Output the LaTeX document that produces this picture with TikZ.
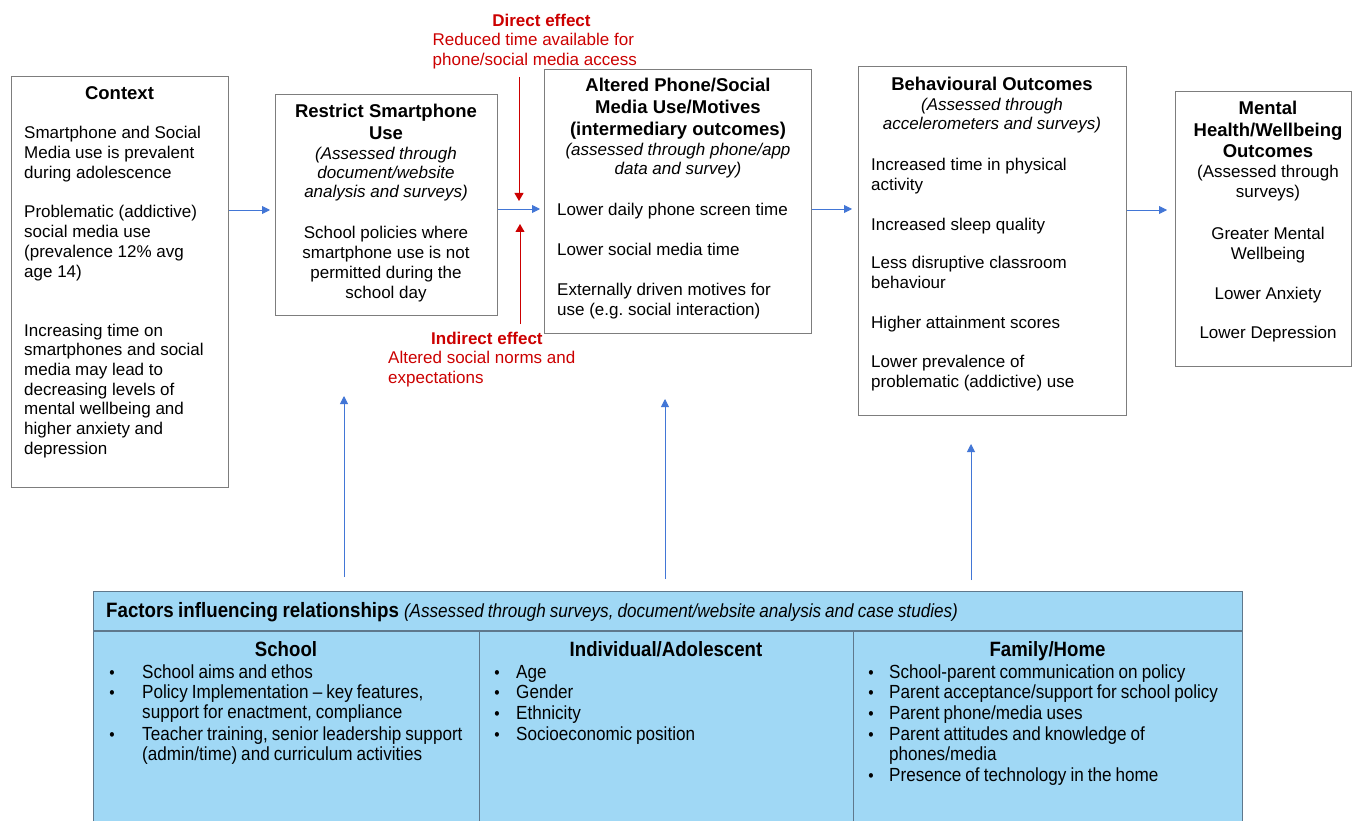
\documentclass[tikz,border=0pt]{standalone}
\usepackage{fontspec}
\setmainfont{Liberation Sans}
\newfontfamily\narrowfont[FakeStretch=0.9,WordSpace=0.85]{Liberation Sans}
\usetikzlibrary{arrows.meta}
\definecolor{boxgray}{RGB}{125,125,125}
\definecolor{arrowblue}{RGB}{66,118,214}
\definecolor{effred}{RGB}{204,0,0}
\definecolor{tblfill}{RGB}{160,216,245}
\definecolor{tblline}{RGB}{95,120,140}
\frenchspacing
\begin{document}
\begin{tikzpicture}[x=1pt,y=-1pt,
  natspace/.style={execute at begin node={\spaceskip=\fontdimen2\font\xspaceskip=\fontdimen2\font\relax}},
  box/.style={draw=boxgray,line width=0.9pt,inner sep=0pt,anchor=north west},
  body/.style={inner sep=0pt,natspace,font=\fontsize{17}{20}\selectfont},
  lpar/.style={body,anchor=base west,align=left,text width=290pt},
  cpar/.style={body,anchor=base,align=center,text width=280pt},
  head/.style={cpar,font=\bfseries\fontsize{18.5}{21.5}\selectfont},
  ital/.style={cpar,font=\itshape\fontsize{17}{19}\selectfont},
  efftext/.style={inner sep=0pt,text=effred,anchor=base west,font=\fontsize{17}{20}\selectfont},
  blink/.style={draw=arrowblue,line width=0.9pt,-{Triangle[length=8pt,width=8pt]}},
  rlink/.style={draw=effred,line width=0.9pt,-{Triangle[length=8pt,width=9pt]}},
  tbltext/.style={inner sep=0pt,natspace,anchor=base west,align=left,text width=380pt,font=\narrowfont\fontsize{19}{20.5}\selectfont},
  tblhead/.style={inner sep=0pt,anchor=base,font=\narrowfont\bfseries\fontsize{20.7}{22}\selectfont},
  bul/.style={inner sep=0pt,anchor=base,font=\narrowfont\fontsize{17}{20}\selectfont},
]
\useasboundingbox (0,0) rectangle (1352,821);
\fill[white] (0,0) rectangle (1352,821);

% ---------- boxes ----------
\node[box,minimum width=217pt,minimum height=411pt] (ctx) at (11,76) {};
\node[box,minimum width=222pt,minimum height=221pt] (rsu) at (275,94) {};
\node[box,minimum width=267pt,minimum height=264pt] (alt) at (544,69) {};
\node[box,minimum width=268pt,minimum height=349pt] (beh) at (858,66) {};
\node[box,minimum width=176pt,minimum height=275pt] (mh) at (1175,91) {};
\node[draw=tblline,fill=tblfill,line width=1.2pt,inner sep=0pt,anchor=north west,
      minimum width=1149pt,minimum height=245pt] (tbl) at (93,591) {};

% ---------- Context ----------
\node[head] (ctxh) at (119.5,100) {Context};
\node[lpar] (ctx1) at (24,139) {Smartphone and Social\\Media use is prevalent\\during adolescence};
\node[lpar] (ctx2) at (24,218) {Problematic (addictive)\\social media use\\(prevalence 12\% avg\\age 14)};
\node[lpar,font=\fontsize{17}{19.7}\selectfont] (ctx3) at (24,336) {Increasing time on\\smartphones and social\\media may lead to\\decreasing levels of\\mental wellbeing and\\higher anxiety and\\depression};

% ---------- Restrict ----------
\node[head] (rsuh) at (386,118) {Restrict Smartphone\\Use};
\node[ital] (rsui) at (386,160) {(Assessed through\\document/website\\analysis and surveys)};
\node[cpar,font=\fontsize{17}{19.7}\selectfont] (rsu1) at (386,239) {School policies where\\smartphone use is not\\permitted during the\\school day};

% ---------- Altered ----------
\node[head,font=\bfseries\fontsize{18.5}{22}\selectfont] (alth) at (678,92) {Altered Phone/Social\\Media Use/Motives\\(intermediary outcomes)};
\node[ital] (alti) at (678,156) {(assessed through phone/app\\data and survey)};
\node[lpar] (alt1) at (557,216) {Lower daily phone screen time};
\node[lpar] (alt2) at (557,255) {Lower social media time};
\node[lpar] (alt3) at (557,295) {Externally driven motives for\\use (e.g. social interaction)};

% ---------- Behavioural ----------
\node[head] (behh) at (992,91) {Behavioural Outcomes};
\node[ital] (behi) at (992,111) {(Assessed through\\accelerometers and surveys)};
\node[lpar] (beh1) at (871,171) {Increased time in physical\\activity};
\node[lpar] (beh2) at (871,230) {Increased sleep quality};
\node[lpar] (beh3) at (871,269) {Less disruptive classroom\\behaviour};
\node[lpar] (beh4) at (871,328) {Higher attainment scores};
\node[lpar] (beh5) at (871,367) {Lower prevalence of\\problematic (addictive) use};

% ---------- Mental health ----------
\node[head] (mhh) at (1268,115) {Mental\\Health/Wellbeing\\Outcomes};
\node[cpar] (mhi) at (1268,178) {(Assessed through\\surveys)};
\node[cpar] (mh1) at (1268,240) {Greater Mental\\Wellbeing};
\node[cpar] (mh2) at (1268,299) {Lower Anxiety};
\node[cpar] (mh3) at (1268,338) {Lower Depression};

% ---------- red effect labels ----------
\node[efftext,anchor=base,font=\bfseries\fontsize{17}{20}\selectfont] (dirh) at (541.5,26.5) {Direct effect};
\node[efftext] (dir1) at (432.5,45.5) {Reduced time available for};
\node[efftext] (dir2) at (432.5,65.5) {phone/social media access};
\node[efftext,font=\bfseries\fontsize{17}{20}\selectfont] (indh) at (431,344) {Indirect effect};
\node[efftext] (ind1) at (388,363) {Altered social norms and};
\node[efftext] (ind2) at (388,383) {expectations};

% ---------- connectors ----------
\coordinate (h210) at (0,210);
\coordinate (h209) at (0,209);
\draw[blink,shorten >=5pt] (ctx.east |- h210) -- (rsu.west |- h210);
\draw[blink,shorten >=4pt] (rsu.east |- h209) -- (alt.west |- h209);
\draw[blink,shorten >=6pt] (alt.east |- h209) -- (beh.west |- h209);
\draw[blink,shorten >=8pt] (beh.east |- h210) -- (mh.west |- h210);

\coordinate (d0) at (519,77);
\coordinate (d1) at (519,201);
\coordinate (i0) at (520,324);
\coordinate (i1) at (520,224);
\draw[rlink] (d0) -- (d1);
\draw[rlink] (i0) -- (i1);

\coordinate (u1) at (344,396);
\coordinate (u2) at (665,399);
\coordinate (u3) at (971,444);
\draw[blink,shorten <=14pt] (tbl.north -| u1) -- (u1);
\draw[blink,shorten <=12pt] (tbl.north -| u2) -- (u2);
\draw[blink,shorten <=11pt] (tbl.north -| u3) -- (u3);

% ---------- table ----------
\coordinate (hy) at (0,631);
\coordinate (c1) at (479,0);
\coordinate (c2) at (853,0);
\draw[tblline,line width=1.2pt] (tbl.west |- hy) -- (tbl.east |- hy);
\draw[tblline,line width=1pt] (c1 |- hy) -- (c1 |- tbl.south);
\draw[tblline,line width=1pt] (c2 |- hy) -- (c2 |- tbl.south);

\node[inner sep=0pt,anchor=base west] (tblh) at (106,617)
  {\narrowfont{\bfseries\fontsize{20.8}{22}\selectfont Factors influencing relationships}\hspace{5pt}{\itshape\fontsize{19}{20}\selectfont(Assessed through surveys, document/website analysis and case studies)}};

\node[tblhead] (colA) at (286,656) {School};
\node[tblhead] (colB) at (666,656) {Individual/Adolescent};
\node[tblhead] (colC) at (1047.5,656) {Family/Home};

% School column
\node[bul] (sb1) at (112,678) {•};
\node[tbltext] (s1) at (142,678) {School aims and ethos};
\node[bul] (sb2) at (112,698) {•};
\node[tbltext] (s2) at (142,698) {Policy Implementation – key features,\\support for enactment, compliance};
\node[bul] (sb3) at (112,740) {•};
\node[tbltext] (s3) at (142,740) {Teacher training, senior leadership support\\(admin/time) and curriculum activities};

% Individual column
\node[bul] (ib1) at (497,678) {•};
\node[tbltext] (i1t) at (516,678) {Age};
\node[bul] (ib2) at (497,698) {•};
\node[tbltext] (i2t) at (516,698) {Gender};
\node[bul] (ib3) at (497,719) {•};
\node[tbltext] (i3t) at (516,719) {Ethnicity};
\node[bul] (ib4) at (497,740) {•};
\node[tbltext] (i4t) at (516,740) {Socioeconomic position};

% Family column
\node[bul] (fb1) at (871,678) {•};
\node[tbltext] (f1) at (889,678) {School-parent communication on policy};
\node[bul] (fb2) at (871,698) {•};
\node[tbltext] (f2) at (889,698) {Parent acceptance/support for school policy};
\node[bul] (fb3) at (871,719) {•};
\node[tbltext] (f3) at (889,719) {Parent phone/media uses};
\node[bul] (fb4) at (871,740) {•};
\node[tbltext] (f4) at (889,740) {Parent attitudes and knowledge of\\phones/media};
\node[bul] (fb5) at (871,781) {•};
\node[tbltext] (f5) at (889,781) {Presence of technology in the home};
\end{tikzpicture}
\end{document}
